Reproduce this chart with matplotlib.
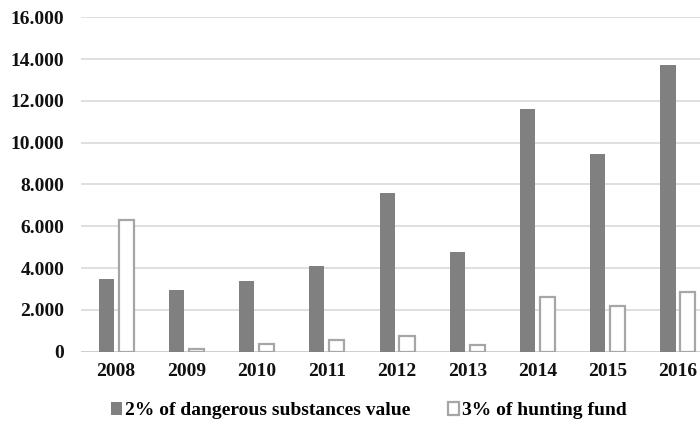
import matplotlib
matplotlib.use("Agg")
import matplotlib.pyplot as plt
import numpy as np
from matplotlib.ticker import FuncFormatter

years = ["2008", "2009", "2010", "2011", "2012", "2013", "2014", "2015", "2016"]
dangerous = [3500, 2950, 3380, 4100, 7600, 4750, 11600, 9480, 13700]
hunting = [6300, 150, 350, 550, 750, 300, 2600, 2200, 2850]
series_names = ["2% of dangerous substances value", "3% of hunting fund"]
y_ticks = [0, 2000, 4000, 6000, 8000, 10000, 12000, 14000, 16000]

plt.rcParams["font.family"] = ["Liberation Serif", "DejaVu Serif"]
plt.rcParams["font.weight"] = "bold"

fig = plt.figure(figsize=(7, 4.25), dpi=100)
ax = fig.add_axes([0.1157, 0.1725, 0.903, 0.7868])

x = np.arange(len(years))
w = 0.214
off = 0.142
ax.bar(x - off, dangerous, width=w, color="#808080", linewidth=0, zorder=3,
       label=series_names[0])
ax.bar(x + off, hunting, width=w, facecolor="white", edgecolor="#a6a6a6",
       linewidth=1.6, zorder=3, label=series_names[1])

ax.set_xlim(-0.5, len(years) - 0.5)
ax.set_ylim(0, 16000)
ax.set_yticks(y_ticks)
ax.yaxis.set_major_formatter(FuncFormatter(lambda v, p: f"{int(v):,}".replace(",", ".")))
ax.set_xticks(x)
ax.set_xticklabels(years)
ax.grid(axis="y", color="#d9d9d9", linewidth=1.2, zorder=0)
for s in ax.spines.values():
    s.set_visible(False)
ax.axhline(0, color="#d0d0d0", linewidth=1.4, zorder=2)
ax.tick_params(axis="both", length=0, labelsize=14, colors="#111111")
ax.tick_params(axis="y", pad=12)
ax.tick_params(axis="x", pad=8)
for lbl in ax.get_xticklabels() + ax.get_yticklabels():
    lbl.set_fontweight("bold")

fig.legend(loc="center", bbox_to_anchor=(0.527, 0.033), ncol=2, frameon=False,
           handlelength=0.6, handleheight=0.6, handletextpad=0.15,
           columnspacing=1.9, prop={"weight": "bold", "size": 14})

fig.savefig("out.png", dpi=100)
